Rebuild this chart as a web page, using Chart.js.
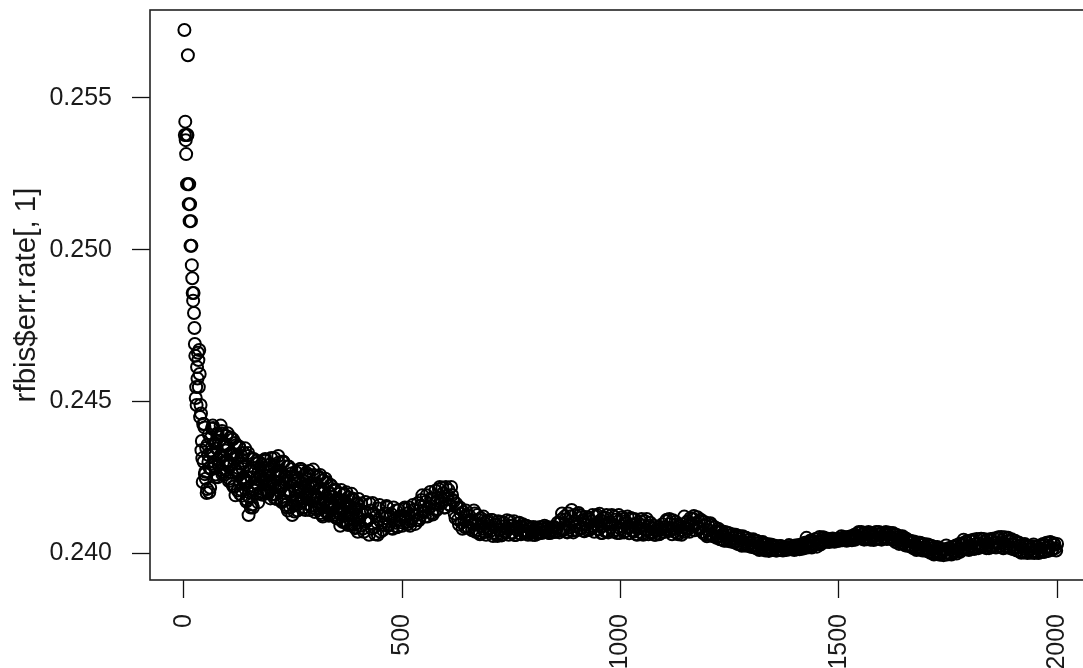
<!DOCTYPE html>
<html>
<head>
<meta charset="utf-8">
<script src="https://cdn.jsdelivr.net/npm/chart.js@4"></script>
<style>
html,body{margin:0;padding:0;background:#fff;}
#wrap{width:1083px;height:668px;overflow:hidden;position:relative;}
canvas{display:block;}
</style>
</head>
<body>
<div id="wrap"><canvas id="c" width="1100" height="668"></canvas></div>
<script>
// Tree index (x) and OOB error rate (y)
const trees = [
1,2,3,4,5,6,7,8,9,10,11,12,13,14,15,16,17,18,19,20,
21,22,23,24,25,26,27,28,29,30,31,32,33,34,35,36,37,38,39,
40,44,48,52,56,
60,64,68,72,76,80,84,88,92,96,
100,104,108,112,116,120,124,128,132,136,
140,144,148,152,156,160,164,168,172,176,
180,184,188,192,196,200,204,208,212,216,
220,224,228,232,236,240,244,248,252,256,
260,264,268,272,276,280,284,288,292,296,
300,304,308,312,316,320,324,328,332,336,
340,344,348,352,356,360,364,368,372,376,
380,384,388,392,396,400,404,408,412,416,
420,424,428,432,436,440,444,448,452,456,
460,464,468,472,476,480,484,488,492,496,
500,504,508,512,516,520,524,528,532,536,
540,544,548,552,556,560,564,568,572,576,
580,584,588,592,596,600,604,608,612,616,
620,624,628,632,636,640,644,648,652,656,
660,664,668,672,676,680,684,688,692,696,
700,704,708,712,716,720,724,728,732,736,
740,744,748,752,756,760,764,768,772,776,
780,784,788,792,796,800,804,808,812,816,
820,824,828,832,836,840,844,848,852,856,
860,864,868,872,876,880,884,888,892,896,
900,904,908,912,916,920,924,928,932,936,
940,944,948,952,956,960,964,968,972,976,
980,984,988,992,996,1000,1004,1008,1012,1016,
1020,1024,1028,1032,1036,1040,1044,1048,1052,1056,
1060,1064,1068,1072,1076,1080,1084,1088,1092,1096,
1100,1104,1108,1112,1116,1120,1124,1128,1132,1136,
1140,1144,1148,1152,1156,1160,1164,1168,1172,1176,
1180,1184,1188,1192,1196,1200,1204,1208,1212,1216,
1220,1224,1228,1232,1236,1240,1244,1248,1252,1256,
1260,1264,1268,1272,1276,1280,1284,1288,1292,1296,
1300,1304,1308,1312,1316,1320,1324,1328,1332,1336,
1340,1344,1348,1352,1356,1360,1364,1368,1372,1376,
1380,1384,1388,1392,1396,1400,1404,1408,1412,1416,
1420,1424,1428,1432,1436,1440,1444,1448,1452,1456,
1460,1464,1468,1472,1476,1480,1484,1488,1492,1496,
1500,1504,1508,1512,1516,1520,1524,1528,1532,1536,
1540,1544,1548,1552,1556,1560,1564,1568,1572,1576,
1580,1584,1588,1592,1596,1600,1604,1608,1612,1616,
1620,1624,1628,1632,1636,1640,1644,1648,1652,1656,
1660,1664,1668,1672,1676,1680,1684,1688,1692,1696,
1700,1704,1708,1712,1716,1720,1724,1728,1732,1736,
1740,1744,1748,1752,1756,1760,1764,1768,1772,1776,
1780,1784,1788,1792,1796,1800,1804,1808,1812,1816,
1820,1824,1828,1832,1836,1840,1844,1848,1852,1856,
1860,1864,1868,1872,1876,1880,1884,1888,1892,1896,
1900,1904,1908,1912,1916,1920,1924,1928,1932,1936,
1940,1944,1948,1952,1956,1960,1964,1968,1972,1976,
1980,1984,1988,1992,1996,2000
];
const errRate = [
0.25724,0.25378,0.25422,0.25361,0.25315,0.25378,0.25216,0.25378,0.25641,0.25216,
0.25150,0.25216,0.25094,0.25150,0.25013,0.25094,0.25013,0.24949,0.24906,0.24857,
0.24832,0.24857,0.24791,0.24742,0.24689,0.24650,0.24511,0.24547,0.24488,0.24613,
0.24575,0.24660,0.24636,0.24547,0.24669,0.24590,0.24448,0.24488,0.24460,
0.24339,0.24425,0.24260,0.24198,0.24300,
0.24215,0.24410,0.24330,0.24250,0.24390,0.24290,0.24420,0.24260,0.24360,0.24300,
0.24395,0.24245,0.24330,0.24375,0.24220,0.24356,0.24280,0.24195,0.24320,0.24250,
0.24345,0.24175,0.24125,0.24270,0.24160,0.24310,0.24230,0.24195,0.24300,0.24250,
0.24192,0.24307,0.24240,0.24200,0.24290,0.24313,0.24225,0.24180,0.24270,0.24320,
0.24250,0.24168,0.24300,0.24230,0.24150,0.24285,0.24200,0.24125,0.24240,0.24267,
0.24140,0.24210,0.24277,0.24180,0.24150,0.24265,0.24220,0.24142,0.24200,0.24275,
0.24135,0.24230,0.24180,0.24257,0.24125,0.24200,0.24245,0.24150,0.24123,0.24224,
0.24160,0.24208,0.24118,0.24180,0.24130,0.24208,0.24102,0.24170,0.24200,0.24092,
0.24150,0.24195,0.24110,0.24082,0.24160,0.24178,0.24090,0.24130,0.24070,0.24168,
0.24110,0.24060,0.24140,0.24165,0.24085,0.24120,0.24060,0.24158,0.24100,0.24076,
0.24130,0.24155,0.24090,0.24120,0.24082,0.24150,0.24100,0.24085,0.24142,0.24110,
0.24090,0.24145,0.24120,0.24095,0.24150,0.24105,0.24158,0.24125,0.24108,0.24165,
0.24115,0.24175,0.24140,0.24120,0.24190,0.24150,0.24201,0.24132,0.24180,0.24205,
0.24145,0.24210,0.24170,0.24215,0.24150,0.24218,0.24190,0.24160,0.24218,0.24175,
0.24130,0.24162,0.24110,0.24150,0.24100,0.24135,0.24085,0.24125,0.24082,0.24110,
0.24075,0.24140,0.24070,0.24125,0.24066,0.24115,0.24080,0.24100,0.24060,0.24108,
0.24070,0.24109,0.24056,0.24095,0.24062,0.24105,0.24075,0.24058,0.24100,0.24068,
0.24108,0.24060,0.24090,0.24065,0.24105,0.24059,0.24085,0.24100,0.24062,0.24095,
0.24065,0.24090,0.24060,0.24085,0.24070,0.24086,0.24059,0.24080,0.24066,0.24086,
0.24066,0.24085,0.24070,0.24086,0.24066,0.24082,0.24068,0.24086,0.24070,0.24100,
0.24068,0.24110,0.24075,0.24120,0.24070,0.24130,0.24085,0.24142,0.24068,0.24125,
0.24075,0.24132,0.24080,0.24119,0.24072,0.24119,0.24076,0.24110,0.24082,0.24125,
0.24070,0.24120,0.24090,0.24129,0.24066,0.24115,0.24072,0.24125,0.24068,0.24100,
0.24125,0.24070,0.24110,0.24066,0.24125,0.24080,0.24118,0.24068,0.24105,0.24120,
0.24065,0.24115,0.24075,0.24112,0.24062,0.24100,0.24070,0.24112,0.24060,0.24105,
0.24112,0.24062,0.24100,0.24070,0.24090,0.24060,0.24076,0.24062,0.24080,0.24095,
0.24070,0.24105,0.24080,0.24112,0.24076,0.24108,0.24070,0.24095,0.24062,0.24088,
0.24060,0.24086,0.24070,0.24100,0.24080,0.24115,0.24092,0.24122,0.24095,0.24118,
0.24080,0.24110,0.24070,0.24102,0.24060,0.24098,0.24062,0.24090,0.24055,0.24085,
0.24050,0.24080,0.24045,0.24072,0.24042,0.24069,0.24040,0.24065,0.24038,0.24062,
0.24035,0.24060,0.24030,0.24056,0.24028,0.24055,0.24025,0.24050,0.24023,0.24045,
0.24020,0.24045,0.24018,0.24040,0.24015,0.24036,0.24012,0.24032,0.24008,0.24030,
0.24007,0.24028,0.24010,0.24025,0.24008,0.24022,0.24010,0.24022,0.24008,0.24020,
0.24010,0.24020,0.24012,0.24020,0.24014,0.24025,0.24012,0.24026,0.24015,0.24028,
0.24016,0.24030,0.24018,0.24036,0.24022,0.24040,0.24026,0.24046,0.24030,0.24053,
0.24035,0.24052,0.24036,0.24048,0.24038,0.24045,0.24040,0.24046,0.24040,0.24043,
0.24040,0.24048,0.24042,0.24052,0.24045,0.24053,0.24047,0.24055,0.24049,0.24060,
0.24050,0.24066,0.24049,0.24069,0.24046,0.24065,0.24045,0.24069,0.24044,0.24066,
0.24043,0.24068,0.24047,0.24069,0.24046,0.24066,0.24050,0.24069,0.24048,0.24067,
0.24050,0.24066,0.24045,0.24060,0.24040,0.24055,0.24032,0.24050,0.24025,0.24043,
0.24023,0.24040,0.24020,0.24038,0.24015,0.24035,0.24012,0.24032,0.24008,0.24030,
0.24007,0.24028,0.24004,0.24024,0.24000,0.24020,0.23997,0.24016,0.23994,0.24013,
0.23993,0.24012,0.23995,0.24016,0.23998,0.24020,0.24002,0.24025,0.24005,0.24030,
0.24008,0.24032,0.24012,0.24038,0.24014,0.24040,0.24016,0.24044,0.24018,0.24046,
0.24016,0.24045,0.24020,0.24046,0.24018,0.24044,0.24016,0.24046,0.24020,0.24048,
0.24018,0.24050,0.24022,0.24053,0.24016,0.24052,0.24020,0.24050,0.24016,0.24045,
0.24012,0.24040,0.24008,0.24035,0.24004,0.24026,0.24002,0.24025,0.24000,0.24022,
0.24001,0.24022,0.24000,0.24020,0.24002,0.24025,0.24004,0.24030,0.24006,0.24034,
0.24007,0.24036,0.24010,0.24032,0.24016,0.24030
];
// In-between trees (every 4th tree, offset by 2)
const trees2 = [
42,46,50,54,58,
62,66,70,74,78,82,86,90,94,98,
102,106,110,114,118,122,126,130,134,138,
142,146,150,154,158,162,166,170,174,178,
182,186,190,194,198,202,206,210,214,218,
222,226,230,234,238,242,246,250,254,258,
262,266,270,274,278,282,286,290,294,298,
302,306,310,314,318,322,326,330,334,338,
342,346,350,354,358,362,366,370,374,378,
382,386,390,394,398,402,406,410,414,418,
422,426,430,434,438,442,446,450,454,458,
462,466,470,474,478,482,486,490,494,498,
502,506,510,514,518,522,526,530,534,538,
542,546,550,554,558,562,566,570,574,578,
582,586,590,594,598,602,606,610,614,618,
622,626,630,634,638,642,646,650,654,658,
662,666,670,674,678,682,686,690,694,698,
702,706,710,714,718,722,726,730,734,738,
742,746,750,754,758,762,766,770,774,778,
782,786,790,794,798,802,806,810,814,818,
822,826,830,834,838,842,846,850,854,858,
862,866,870,874,878,882,886,890,894,898,
902,906,910,914,918,922,926,930,934,938,
942,946,950,954,958,962,966,970,974,978,
982,986,990,994,998,1002,1006,1010,1014,1018,
1022,1026,1030,1034,1038,1042,1046,1050,1054,1058,
1062,1066,1070,1074,1078,1082,1086,1090,1094,1098,
1102,1106,1110,1114,1118,1122,1126,1130,1134,1138,
1142,1146,1150,1154,1158,1162,1166,1170,1174,1178,
1182,1186,1190,1194,1198,1202,1206,1210,1214,1218,
1222,1226,1230,1234,1238,1242,1246,1250,1254,1258,
1262,1266,1270,1274,1278,1282,1286,1290,1294,1298,
1302,1306,1310,1314,1318,1322,1326,1330,1334,1338,
1342,1346,1350,1354,1358,1362,1366,1370,1374,1378,
1382,1386,1390,1394,1398,1402,1406,1410,1414,1418,
1422,1426,1430,1434,1438,1442,1446,1450,1454,1458,
1462,1466,1470,1474,1478,1482,1486,1490,1494,1498,
1502,1506,1510,1514,1518,1522,1526,1530,1534,1538,
1542,1546,1550,1554,1558,1562,1566,1570,1574,1578,
1582,1586,1590,1594,1598,1602,1606,1610,1614,1618,
1622,1626,1630,1634,1638,1642,1646,1650,1654,1658,
1662,1666,1670,1674,1678,1682,1686,1690,1694,1698,
1702,1706,1710,1714,1718,1722,1726,1730,1734,1738,
1742,1746,1750,1754,1758,1762,1766,1770,1774,1778,
1782,1786,1790,1794,1798,1802,1806,1810,1814,1818,
1822,1826,1830,1834,1838,1842,1846,1850,1854,1858,
1862,1866,1870,1874,1878,1882,1886,1890,1894,1898,
1902,1906,1910,1914,1918,1922,1926,1930,1934,1938,
1942,1946,1950,1954,1958,1962,1966,1970,1974,1978,
1982,1986,1990,1994,1998
];
const errRate2 = [
0.24312,0.24425,0.24245,0.24357,0.24200,
0.24335,0.24420,0.24284,0.24369,0.24250,0.24318,0.24395,0.24267,0.24352,0.24301,
0.24285,0.24380,0.24228,0.24323,0.24190,0.24266,0.24351,0.24209,0.24304,0.24247,
0.24235,0.24320,0.24184,0.24269,0.24150,0.24218,0.24294,0.24167,0.24252,0.24201,
0.24245,0.24310,0.24206,0.24271,0.24180,0.24232,0.24290,0.24193,0.24258,0.24219,
0.24220,0.24300,0.24172,0.24252,0.24140,0.24204,0.24276,0.24156,0.24236,0.24188,
0.24210,0.24277,0.24169,0.24237,0.24142,0.24196,0.24257,0.24156,0.24223,0.24183,
0.24185,0.24250,0.24146,0.24211,0.24120,0.24172,0.24230,0.24133,0.24198,0.24159,
0.24150,0.24210,0.24114,0.24174,0.24090,0.24138,0.24192,0.24102,0.24162,0.24126,
0.24125,0.24180,0.24092,0.24147,0.24070,0.24114,0.24163,0.24081,0.24136,0.24103,
0.24111,0.24162,0.24080,0.24131,0.24062,0.24101,0.24147,0.24070,0.24122,0.24092,
0.24115,0.24150,0.24094,0.24129,0.24080,0.24108,0.24140,0.24087,0.24122,0.24101,
0.24120,0.24150,0.24102,0.24132,0.24090,0.24114,0.24141,0.24096,0.24126,0.24108,
0.24155,0.24190,0.24134,0.24169,0.24120,0.24148,0.24180,0.24127,0.24162,0.24141,
0.24184,0.24218,0.24164,0.24198,0.24150,0.24177,0.24208,0.24157,0.24191,0.24170,
0.24115,0.24150,0.24094,0.24129,0.24080,0.24108,0.24140,0.24087,0.24122,0.24101,
0.24096,0.24130,0.24076,0.24110,0.24062,0.24089,0.24120,0.24069,0.24103,0.24082,
0.24082,0.24109,0.24067,0.24093,0.24056,0.24077,0.24101,0.24061,0.24088,0.24072,
0.24082,0.24105,0.24068,0.24091,0.24059,0.24077,0.24098,0.24064,0.24087,0.24073,
0.24074,0.24088,0.24066,0.24080,0.24060,0.24071,0.24084,0.24063,0.24077,0.24068,
0.24078,0.24090,0.24071,0.24083,0.24066,0.24076,0.24086,0.24070,0.24081,0.24073,
0.24099,0.24130,0.24080,0.24111,0.24068,0.24093,0.24121,0.24074,0.24105,0.24087,
0.24099,0.24125,0.24083,0.24109,0.24072,0.24093,0.24117,0.24077,0.24104,0.24088,
0.24096,0.24125,0.24078,0.24107,0.24066,0.24090,0.24116,0.24072,0.24101,0.24084,
0.24093,0.24120,0.24077,0.24104,0.24066,0.24088,0.24112,0.24072,0.24098,0.24082,
0.24086,0.24112,0.24070,0.24096,0.24060,0.24081,0.24104,0.24065,0.24091,0.24076,
0.24075,0.24090,0.24066,0.24081,0.24060,0.24072,0.24085,0.24063,0.24078,0.24069,
0.24086,0.24110,0.24072,0.24096,0.24062,0.24081,0.24103,0.24067,0.24091,0.24076,
0.24095,0.24120,0.24080,0.24105,0.24070,0.24090,0.24113,0.24075,0.24100,0.24085,
0.24080,0.24105,0.24065,0.24090,0.24055,0.24075,0.24098,0.24060,0.24085,0.24070,
0.24055,0.24070,0.24046,0.24061,0.24040,0.24052,0.24066,0.24043,0.24058,0.24049,
0.24040,0.24055,0.24030,0.24046,0.24024,0.24036,0.24050,0.24027,0.24043,0.24033,
0.24025,0.24040,0.24016,0.24031,0.24010,0.24022,0.24036,0.24013,0.24028,0.24019,
0.24017,0.24026,0.24012,0.24021,0.24008,0.24015,0.24023,0.24010,0.24019,0.24013,
0.24018,0.24026,0.24013,0.24021,0.24010,0.24016,0.24024,0.24012,0.24020,0.24015,
0.24034,0.24050,0.24024,0.24040,0.24018,0.24031,0.24045,0.24021,0.24037,0.24028,
0.24043,0.24050,0.24039,0.24046,0.24036,0.24042,0.24048,0.24037,0.24044,0.24040,
0.24048,0.24055,0.24043,0.24051,0.24040,0.24046,0.24053,0.24042,0.24049,0.24044,
0.24056,0.24069,0.24049,0.24062,0.24044,0.24054,0.24065,0.24046,0.24059,0.24051,
0.24056,0.24069,0.24049,0.24062,0.24044,0.24054,0.24065,0.24046,0.24059,0.24051,
0.24045,0.24060,0.24036,0.24051,0.24030,0.24042,0.24055,0.24033,0.24048,0.24039,
0.24024,0.24038,0.24016,0.24030,0.24010,0.24021,0.24034,0.24013,0.24027,0.24018,
0.24010,0.24024,0.24001,0.24015,0.23995,0.24007,0.24020,0.23998,0.24012,0.24004,
0.24010,0.24025,0.24001,0.24016,0.23995,0.24007,0.24020,0.23998,0.24013,0.24004,
0.24027,0.24044,0.24017,0.24034,0.24010,0.24024,0.24039,0.24013,0.24030,0.24020,
0.24031,0.24047,0.24022,0.24037,0.24016,0.24028,0.24042,0.24019,0.24034,0.24025,
0.24034,0.24052,0.24023,0.24041,0.24016,0.24030,0.24047,0.24021,0.24038,0.24027,
0.24018,0.24035,0.24008,0.24025,0.24001,0.24015,0.24030,0.24004,0.24021,0.24011,
0.24014,0.24028,0.24006,0.24020,0.24000,0.24011,0.24024,0.24003,0.24017,0.24008,
0.24021,0.24035,0.24014,0.24027,0.24008
];
// Odd trees in the noisy early stretch (41-399)
const trees3 = [
41,43,45,47,49,51,53,55,57,59,
61,63,65,67,69,71,73,75,77,79,
81,83,85,87,89,91,93,95,97,99,
101,103,105,107,109,111,113,115,117,119,
121,123,125,127,129,131,133,135,137,139,
141,143,145,147,149,151,153,155,157,159,
161,163,165,167,169,171,173,175,177,179,
181,183,185,187,189,191,193,195,197,199,
201,203,205,207,209,211,213,215,217,219,
221,223,225,227,229,231,233,235,237,239,
241,243,245,247,249,251,253,255,257,259,
261,263,265,267,269,271,273,275,277,279,
281,283,285,287,289,291,293,295,297,299,
301,303,305,307,309,311,313,315,317,319,
321,323,325,327,329,331,333,335,337,339,
341,343,345,347,349,351,353,355,357,359,
361,363,365,367,369,371,373,375,377,379,
381,383,385,387,389,391,393,395,397,399
];
const errRate3 = [
0.24369,0.24234,0.24301,0.24414,0.24268,0.24346,0.24211,0.24324,0.24391,0.24279,
0.24378,0.24276,0.24327,0.24412,0.24301,0.24361,0.24259,0.24344,0.24395,0.24310,
0.24370,0.24274,0.24322,0.24402,0.24298,0.24354,0.24258,0.24338,0.24386,0.24306,
0.24345,0.24237,0.24291,0.24381,0.24264,0.24327,0.24219,0.24309,0.24363,0.24273,
0.24312,0.24206,0.24259,0.24347,0.24233,0.24294,0.24189,0.24277,0.24330,0.24242,
0.24290,0.24170,0.24230,0.24330,0.24200,0.24270,0.24150,0.24250,0.24310,0.24210,
0.24280,0.24208,0.24244,0.24304,0.24226,0.24268,0.24196,0.24256,0.24292,0.24232,
0.24280,0.24208,0.24244,0.24304,0.24226,0.24268,0.24196,0.24256,0.24292,0.24232,
0.24283,0.24193,0.24238,0.24313,0.24215,0.24268,0.24178,0.24253,0.24298,0.24223,
0.24270,0.24174,0.24222,0.24302,0.24198,0.24254,0.24158,0.24238,0.24286,0.24206,
0.24235,0.24151,0.24193,0.24263,0.24172,0.24221,0.24137,0.24207,0.24249,0.24179,
0.24243,0.24162,0.24203,0.24270,0.24182,0.24230,0.24149,0.24216,0.24257,0.24189,
0.24243,0.24162,0.24203,0.24270,0.24182,0.24230,0.24149,0.24216,0.24257,0.24189,
0.24226,0.24145,0.24186,0.24253,0.24165,0.24213,0.24132,0.24199,0.24240,0.24172,
0.24210,0.24138,0.24174,0.24234,0.24156,0.24198,0.24126,0.24186,0.24222,0.24162,
0.24185,0.24125,0.24155,0.24205,0.24140,0.24175,0.24115,0.24165,0.24195,0.24145,
0.24173,0.24107,0.24140,0.24195,0.24123,0.24162,0.24096,0.24151,0.24184,0.24129,
0.24155,0.24095,0.24125,0.24175,0.24110,0.24145,0.24085,0.24135,0.24165,0.24115
];
const xTicks = [0, 500, 1000, 1500, 2000];
const yTicks = [0.240, 0.245, 0.250, 0.255];
const yTitle = "rfbis$err.rate[, 1]";

Chart.defaults.font.family = "'Liberation Sans', Arial, sans-serif";
Chart.defaults.color = "#1a1a1a";

const points = trees.map((t, i) => ({x: t, y: errRate[i]}))
  .concat(trees2.map((t, i) => ({x: t, y: errRate2[i]})))
  .concat(trees3.map((t, i) => ({x: t, y: errRate3[i]})));

const boxPlugin = {
  id: 'rbox',
  afterDraw(chart) {
    const a = chart.chartArea, ctx = chart.ctx;
    ctx.save();
    ctx.strokeStyle = '#222';
    ctx.lineWidth = 1.6;
    ctx.strokeRect(a.left, a.top, a.right - a.left, a.bottom - a.top);
    ctx.restore();
  }
};

new Chart(document.getElementById('c'), {
  type: 'scatter',
  data: {
    datasets: [{
      data: points,
      pointStyle: 'circle',
      pointRadius: 6,
      pointBorderWidth: 2,
      pointBorderColor: '#000',
      pointBackgroundColor: 'rgba(0,0,0,0)',
      pointHoverRadius: 6
    }]
  },
  options: {
    responsive: false,
    animation: false,
    events: [],
    layout: {padding: {top: 10, right: 7, left: 0, bottom: 0}},
    plugins: {legend: {display: false}, tooltip: {enabled: false}},
    scales: {
      x: {
        type: 'linear',
        min: -77.8,
        max: 2080,
        afterBuildTicks: s => { s.ticks = xTicks.map(v => ({value: v})); },
        afterFit: s => { s.height = 88; s.paddingLeft = 0; s.paddingRight = 0; },
        grid: {drawOnChartArea: false, drawTicks: true, tickLength: 18, tickColor: '#111', tickWidth: 1.3},
        border: {display: false},
        ticks: {
          minRotation: 90, maxRotation: 90, padding: 16,
          font: {size: 25}, color: '#1a1a1a',
          callback: v => String(v)
        }
      },
      y: {
        type: 'linear',
        min: 0.23911,
        max: 0.257901,
        afterBuildTicks: s => { s.ticks = yTicks.map(v => ({value: v})); },
        afterFit: s => { s.width = 150; s.paddingTop = 0; s.paddingBottom = 0; },
        grid: {drawOnChartArea: false, drawTicks: true, tickLength: 18, tickColor: '#111', tickWidth: 1.3},
        border: {display: false},
        ticks: {
          padding: 20, font: {size: 25}, color: '#1a1a1a',
          callback: v => v.toFixed(3)
        },
        title: {display: true, text: yTitle, font: {size: 29.5}, color: '#1a1a1a', padding: {top: 9, bottom: 0}}
      }
    }
  },
  plugins: [boxPlugin]
});
</script>
</body>
</html>
